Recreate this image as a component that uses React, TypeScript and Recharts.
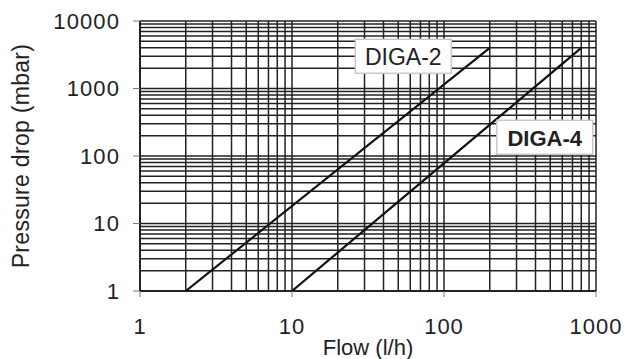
import React from 'react';
import { ComposedChart, Line, XAxis, YAxis, CartesianGrid, ReferenceDot } from 'recharts';

// Series: Flow (l/h) vs Pressure drop (mbar)
const diga2Flow = [2, 200];
const diga2Drop = [1, 4000];
const diga4Flow = [10, 800];
const diga4Drop = [1, 4000];

// Grid / tick values (log decades with minor lines)
const xTicks = [1, 2, 3, 4, 5, 6, 7, 8, 9, 10, 20, 30, 40, 50, 60, 70, 80, 90, 100, 200, 300, 400, 500, 600, 700, 800, 900, 1000];
const yTicks = [1, 2, 3, 4, 5, 6, 7, 8, 9, 10, 20, 30, 40, 50, 60, 70, 80, 90, 100, 200, 300, 400, 500, 600, 700, 800, 900, 1000, 2000, 3000, 4000, 5000, 6000, 7000, 8000, 9000, 10000];
const xLabels = [1, 10, 100, 1000];
const yLabels = [1, 10, 100, 1000, 10000];

// Series annotations
const annotationNames = ['DIGA-2', 'DIGA-4'];
const annotationFlow = [54, 460];
const annotationDrop = [2900, 183];

const diga2 = diga2Flow.map((f, i) => ({ flow: f, drop: diga2Drop[i] }));
const diga4 = diga4Flow.map((f, i) => ({ flow: f, drop: diga4Drop[i] }));

const FONT = '"Liberation Sans", Arial, sans-serif';
const TEXT = '#222';
const X_TICK_SIZE = 6;
const X_TICK_MARGIN = 21;
const Y_TICK_SIZE = 7;
const Y_TICK_MARGIN = 14;

const XTick = (props: any) => {
  const { x, y, payload } = props;
  if (!xLabels.includes(payload.value)) return <g />;
  const top = y - X_TICK_MARGIN - X_TICK_SIZE;
  return (
    <g>
      <line x1={x} x2={x} y1={top} y2={top + X_TICK_SIZE} stroke="#777" strokeWidth={1} />
      <text x={x} y={y} dy="0.71em" textAnchor="middle" fill={TEXT} fontSize={22} letterSpacing={1} fontFamily={FONT}>
        {payload.value}
      </text>
    </g>
  );
};

const YTick = (props: any) => {
  const { x, y, payload } = props;
  if (!yLabels.includes(payload.value)) return <g />;
  const right = x + Y_TICK_MARGIN + Y_TICK_SIZE;
  return (
    <g>
      <line x1={right - Y_TICK_SIZE} x2={right} y1={y} y2={y} stroke="#777" strokeWidth={1} />
      <text x={x + 1} y={y} dy="0.355em" textAnchor="end" fill={TEXT} fontSize={22} letterSpacing={1.1} fontFamily={FONT}>
        {payload.value}
      </text>
    </g>
  );
};

const makeBadge = (name: string, bold: boolean) => (props: any) => {
  const { cx, cy } = props;
  return (
    <g>
      <rect x={cx - 48} y={cy - 18} width={96} height={34} fill="#ffffff" stroke="#c8c8c8" strokeWidth={1.5} />
      <text
        x={cx}
        y={cy}
        dy="0.355em"
        textAnchor="middle"
        fill={TEXT}
        fontSize={bold ? 22 : 23}
        fontWeight={bold ? 'bold' : 'normal'}
        fontFamily={FONT}
      >
        {name}
      </text>
    </g>
  );
};

export default function App() {
  return (
    <div style={{ position: 'absolute', left: 0, top: 0, background: '#fff' }}>
      <ComposedChart width={626} height={359} margin={{ top: 21, right: 30, bottom: 0, left: 0 }}>
        <CartesianGrid stroke="#222" strokeWidth={1.5} />
        <XAxis
          type="number"
          dataKey="flow"
          scale="log"
          domain={[1, 1000]}
          ticks={xTicks}
          allowDataOverflow
          interval={0}
          height={68}
          tickSize={X_TICK_SIZE}
          tickMargin={X_TICK_MARGIN}
          tickLine={false}
          axisLine={{ stroke: '#111', strokeWidth: 1.5 }}
          tick={<XTick />}
          label={{ value: 'Flow (l/h)', position: 'insideBottom', offset: 4, fill: TEXT, fontSize: 22, fontFamily: FONT }}
        />
        <YAxis
          type="number"
          dataKey="drop"
          scale="log"
          domain={[1, 10000]}
          ticks={yTicks}
          allowDataOverflow
          interval={0}
          width={140}
          tickSize={Y_TICK_SIZE}
          tickMargin={Y_TICK_MARGIN}
          tickLine={false}
          axisLine={{ stroke: '#111', strokeWidth: 1.5 }}
          tick={<YTick />}
          label={{
            value: 'Pressure drop (mbar)',
            position: 'insideLeft',
            angle: -90,
            offset: 21,
            fill: TEXT,
            fontSize: 23,
            letterSpacing: 0.3,
            fontFamily: FONT,
            style: { textAnchor: 'middle' },
          }}
        />
        <Line data={diga2} dataKey="drop" type="linear" stroke="#111" strokeWidth={2.2} dot={false} isAnimationActive={false} />
        <Line data={diga4} dataKey="drop" type="linear" stroke="#111" strokeWidth={2.2} dot={false} isAnimationActive={false} />
        {annotationNames.map((n, i) => (
          <ReferenceDot
            key={n}
            x={annotationFlow[i]}
            y={annotationDrop[i]}
            r={0}
            ifOverflow="visible"
            shape={makeBadge(n, i === 1)}
          />
        ))}
      </ComposedChart>
    </div>
  );
}
